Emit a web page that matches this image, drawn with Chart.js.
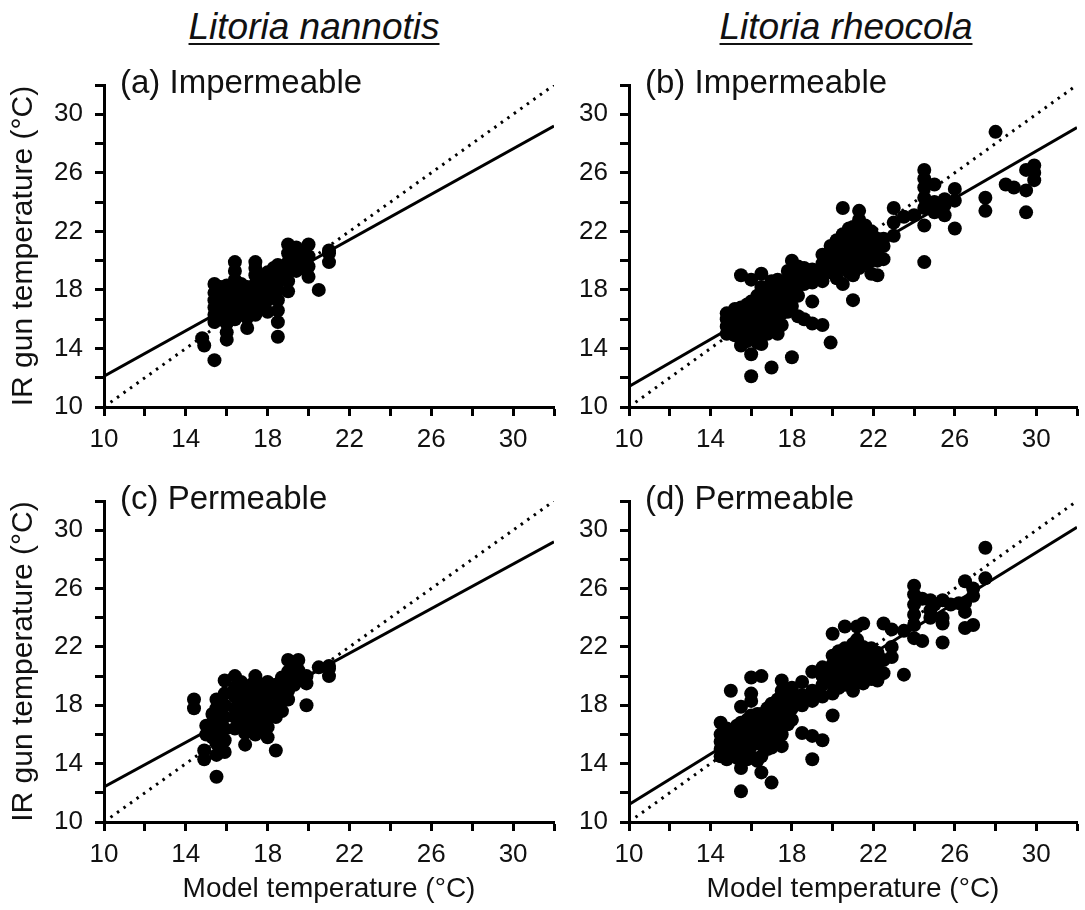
<!DOCTYPE html>
<html>
<head>
<meta charset="utf-8">
<script src="https://cdn.jsdelivr.net/npm/chart.js@4/dist/chart.umd.min.js"></script>
<style>
  body { margin: 0; background: #fff; width: 1085px; height: 910px; position: relative; overflow: hidden;
         font-family: "Liberation Sans", Arial, sans-serif; }
  canvas { position: absolute; }
  .species { position: absolute; top: 6px; font-style: italic; font-size: 37px; color: #111;
             text-decoration: underline; text-decoration-thickness: 2px; text-underline-offset: 4px;
             transform: translateX(-50%); white-space: nowrap; }
</style>
</head>
<body>
<div class="species" style="left:314px">Litoria nannotis</div>
<div class="species" style="left:846px">Litoria rheocola</div>
<canvas id="chartA" width="600" height="470" style="left:0;top:0"></canvas>
<canvas id="chartB" width="540" height="470" style="left:545px;top:0"></canvas>
<canvas id="chartC" width="600" height="450" style="left:0;top:460px"></canvas>
<canvas id="chartD" width="540" height="450" style="left:545px;top:460px"></canvas>
<script>
// model temperature (x) -> IR gun temperatures (y)
const nannotisImpermeable = [
  [14.8, [14.7]], [14.9, [14.2]],
  [15.4, [13.2, 15.8, 16.3, 16.8, 17.3, 17.8, 18.4]],
  [15.7, [16.0, 16.7, 17.5, 18.2]],
  [16.0, [14.6, 15.1, 15.7, 16.4, 17.1, 17.8, 18.3]],
  [16.4, [16.0, 16.7, 17.4, 18.1, 18.7, 19.3, 19.9]],
  [16.7, [16.3, 17.0, 17.8, 18.4]],
  [17.0, [15.4, 16.1, 16.8, 17.5, 18.2]],
  [17.4, [16.3, 17.0, 17.7, 18.4, 19.0, 19.5, 19.9]],
  [17.7, [16.8, 17.6, 18.2, 18.8]],
  [18.0, [16.5, 17.3, 18.0, 18.6, 19.2]],
  [18.3, [17.5, 18.2, 18.9, 19.5]],
  [18.5, [14.8, 15.8, 16.6, 17.3, 18.0, 18.6, 19.2, 19.7]],
  [19.0, [17.9, 18.6, 19.3, 19.9, 20.5, 21.1]],
  [19.4, [19.3, 19.9, 20.5, 20.9]],
  [19.7, [19.5, 20.1, 20.6]],
  [20.0, [18.9, 19.6, 20.3, 21.1]],
  [20.5, [18.0]],
  [21.0, [19.9, 20.5, 20.7]]
];

const rheocolaImpermeable = [
  [14.8, [15.0, 15.5, 16.0, 16.4]],
  [15.2, [14.9, 15.3, 15.8, 16.3, 16.7]],
  [15.5, [14.2, 15.0, 15.6, 16.2, 16.8, 19.0]],
  [15.8, [14.5, 15.2, 15.9, 16.5, 17.0]],
  [16.0, [12.1, 13.6, 14.8, 15.5, 16.0, 16.6, 17.2, 18.7]],
  [16.3, [14.4, 15.1, 15.8, 16.4, 17.0, 17.6]],
  [16.5, [14.3, 15.3, 16.0, 16.8, 17.5, 18.2, 19.1]],
  [16.8, [15.0, 15.7, 16.4, 17.1, 17.8]],
  [17.0, [12.7, 15.2, 16.0, 16.7, 17.4, 18.1, 18.6]],
  [17.3, [15.0, 15.8, 16.6, 17.3, 18.0, 18.7]],
  [17.5, [15.6, 16.4, 17.2, 17.9, 18.5]],
  [17.8, [16.5, 17.3, 18.0, 18.7, 19.3]],
  [18.0, [13.4, 16.9, 17.7, 18.4, 19.0, 20.0]],
  [18.3, [16.2, 17.6, 18.3, 19.0, 19.6]],
  [18.6, [16.0, 18.4, 19.0, 19.5]],
  [19.0, [15.7, 17.2, 18.5, 19.0, 19.4]],
  [19.5, [15.6, 18.6, 19.2, 19.8, 20.4]],
  [19.9, [14.4, 19.2, 19.8, 20.5, 21.0]],
  [20.2, [18.8, 19.6, 20.2, 20.8, 21.4]],
  [20.5, [18.4, 19.5, 20.0, 20.6, 21.2, 21.8, 23.6]],
  [20.8, [19.2, 19.8, 20.4, 21.0, 21.6, 22.2]],
  [21.0, [17.3, 19.0, 19.6, 20.3, 21.0, 21.7, 22.3]],
  [21.3, [19.5, 20.2, 20.8, 21.4, 22.0, 22.8, 23.4]],
  [21.6, [19.8, 20.5, 21.2, 21.8, 22.4]],
  [21.9, [19.1, 20.0, 20.7, 21.3, 22.0]],
  [22.2, [19.0, 20.0, 20.6, 21.2, 21.5]],
  [22.5, [20.1, 21.0, 21.5]],
  [23.0, [21.7, 22.6, 23.6]],
  [23.5, [23.0]],
  [24.0, [23.1]],
  [24.5, [19.9, 22.4, 23.6, 24.3, 25.0, 25.6, 26.2]],
  [25.0, [23.3, 24.0, 25.2]],
  [25.5, [23.1, 23.8, 24.2]],
  [26.0, [22.2, 24.1, 24.9]],
  [27.5, [23.4, 24.3]],
  [28.0, [28.8]],
  [28.5, [25.2]],
  [28.9, [25.0]],
  [29.5, [23.3, 24.8, 26.2]],
  [29.9, [25.5, 26.0, 26.5]]
];

const nannotisPermeable = [
  [14.4, [17.8, 18.4]],
  [14.9, [14.3, 14.9]],
  [15.0, [16.0, 16.6]],
  [15.3, [15.8, 16.8, 17.4]],
  [15.5, [13.1, 14.6, 15.4, 16.2, 17.0, 17.8, 18.4]],
  [15.9, [14.8, 15.6, 16.4, 17.2, 18.0, 18.8, 19.7]],
  [16.4, [16.4, 17.2, 17.8, 18.6, 19.2, 20.0]],
  [16.7, [16.7, 17.5, 18.3, 19.0, 19.6]],
  [16.9, [15.3, 16.1, 17.0, 17.8]],
  [17.2, [16.6, 17.3, 18.1, 18.8, 19.4]],
  [17.4, [16.0, 16.8, 17.6, 18.4, 19.2, 20.0]],
  [17.7, [16.3, 17.1, 17.9, 18.7, 19.4]],
  [18.0, [15.8, 16.5, 17.3, 18.1, 18.9, 19.6]],
  [18.4, [14.9, 17.2, 18.0, 18.8, 19.4]],
  [18.7, [17.6, 18.4, 19.2, 19.9]],
  [19.0, [18.4, 19.0, 19.6, 20.3, 21.1]],
  [19.3, [19.4, 20.0, 20.6]],
  [19.5, [19.7, 20.4, 21.1]],
  [19.9, [18.0, 19.5, 20.0]],
  [20.5, [20.6]],
  [21.0, [20.0, 20.5, 20.7]]
];

const rheocolaPermeable = [
  [14.5, [14.5, 15.0, 15.5, 16.0, 16.8]],
  [14.8, [14.3, 14.9, 15.4, 15.9, 16.4]],
  [15.0, [14.6, 15.2, 15.7, 16.2, 19.0]],
  [15.3, [14.4, 15.0, 15.5, 16.0, 16.6]],
  [15.5, [12.1, 13.7, 14.6, 15.3, 16.0, 16.8, 17.9]],
  [15.8, [14.3, 15.0, 15.7, 16.4, 17.0]],
  [16.0, [14.5, 15.2, 16.0, 16.6, 17.3, 18.3, 18.8, 19.9]],
  [16.3, [14.2, 15.5, 16.2, 16.8, 17.4]],
  [16.5, [13.4, 14.5, 15.3, 16.0, 16.7, 17.4, 20.0]],
  [16.8, [15.0, 15.8, 16.5, 17.2, 17.8]],
  [17.0, [12.7, 15.1, 16.0, 16.8, 17.5, 18.1]],
  [17.3, [15.4, 16.2, 17.0, 17.7, 18.4]],
  [17.5, [15.2, 16.0, 16.8, 17.5, 18.2, 19.0, 19.7]],
  [17.8, [16.7, 17.4, 18.1, 18.8]],
  [18.0, [17.0, 17.8, 18.5, 19.2]],
  [18.5, [16.1, 18.0, 18.7, 19.6]],
  [19.0, [14.3, 15.9, 18.3, 19.0, 20.3]],
  [19.5, [15.6, 18.6, 19.4, 20.0, 20.6]],
  [20.0, [17.3, 18.8, 19.5, 20.2, 20.8, 21.4, 22.9]],
  [20.3, [19.2, 19.9, 20.5, 21.1, 21.7]],
  [20.6, [19.4, 20.0, 20.7, 21.3, 21.9, 23.4]],
  [21.0, [19.0, 19.8, 20.4, 21.0, 21.6, 22.2]],
  [21.2, [19.6, 20.9, 22.5, 23.4]],
  [21.5, [19.5, 20.2, 20.8, 21.4, 22.0, 23.6]],
  [21.9, [19.8, 20.5, 21.2, 21.9]],
  [22.2, [19.7, 20.4, 21.0, 21.6]],
  [22.5, [20.2, 21.1, 23.6]],
  [22.9, [21.3, 22.0, 23.2]],
  [23.5, [20.1, 23.1]],
  [24.0, [22.6, 23.5, 24.2, 24.9, 25.6, 26.2]],
  [24.4, [22.4, 25.3]],
  [24.8, [24.0, 24.5, 25.2]],
  [25.0, [24.9]],
  [25.4, [22.3, 23.6, 24.0, 25.2]],
  [25.8, [24.9]],
  [26.2, [25.0]],
  [26.5, [23.3, 24.4, 25.0, 26.5]],
  [26.9, [23.5, 25.5, 26.0]],
  [27.5, [26.7, 28.8]]
];

// regression lines: y at x = 10 and x = 32; plus the 1:1 line
const lineX = [10, 32];
const fitNannotisImp = [12.1, 29.2];
const fitRheocolaImp = [11.4, 29.1];
const fitNannotisPerm = [12.4, 29.2];
const fitRheocolaPerm = [11.2, 30.2];
const oneToOne = [10, 32];

const tickLabels = [10, 14, 18, 22, 26, 30];

const FONT = '"Liberation Sans", Arial, sans-serif';

function toPoints(groups) {
  let pts = [];
  groups.forEach(g => g[1].forEach(y => pts.push({ x: g[0], y: y })));
  return pts;
}
function toLine(ys) {
  return lineX.map((x, i) => ({ x: x, y: ys[i] }));
}

const panelLabel = {
  id: 'panelLabel',
  afterDraw(chart, args, opts) {
    const ctx = chart.ctx;
    ctx.save();
    ctx.font = '33px ' + FONT;
    ctx.fillStyle = '#111';
    ctx.textBaseline = 'middle';
    ctx.fillText(opts.text, chart.chartArea.left + 16, chart.chartArea.top - 1);
    ctx.restore();
  }
};

function makeChart(id, groups, fit, label, o) {
  const axisGrid = { display: true, drawOnChartArea: false, drawTicks: true, tickLength: 9, tickWidth: 3, tickColor: '#000' };
  const border = { display: true, width: 3, color: '#000' };
  const tickCb = v => tickLabels.includes(v) ? v : '';
  return new Chart(document.getElementById(id).getContext('2d'), {
    type: 'scatter',
    data: {
      datasets: [
        { data: toPoints(groups), pointRadius: 7, pointBackgroundColor: '#000', pointBorderWidth: 0 },
        { data: toLine(fit), showLine: true, pointRadius: 0, borderColor: '#000', borderWidth: 3 },
        { data: toLine(oneToOne), showLine: true, pointRadius: 0, borderColor: '#000', borderWidth: 3,
          borderDash: [2.5, 5.5] }
      ]
    },
    options: {
      responsive: false,
      animation: false,
      devicePixelRatio: 1,
      layout: { padding: { top: o.padTop, right: o.padRight, left: 0, bottom: 0 } },
      plugins: { legend: { display: false }, tooltip: { enabled: false }, panelLabel: { text: label } },
      scales: {
        x: {
          type: 'linear', min: 10, max: 32,
          afterFit: s => { s.height = o.xHeight; },
          ticks: { stepSize: 2, autoSkip: false, maxRotation: 0, padding: 8, color: '#111',
                   font: { family: FONT, size: 26 }, callback: tickCb },
          grid: axisGrid, border: border,
          title: { display: o.xTitle, text: 'Model temperature (°C)', color: '#111',
                   font: { family: FONT, size: 28 }, padding: { top: 2, bottom: 4 } }
        },
        y: {
          type: 'linear', min: 10, max: 32,
          afterFit: s => { s.width = o.yWidth; },
          ticks: { stepSize: 2, autoSkip: false, padding: 12, color: '#111',
                   font: { family: FONT, size: 26 }, callback: tickCb },
          grid: axisGrid, border: border,
          title: { display: o.yTitle, text: 'IR gun temperature (°C)', color: '#111',
                   font: { family: FONT, size: 30 }, padding: { top: 6, bottom: 0 } }
        }
      }
    },
    plugins: [panelLabel]
  });
}

makeChart('chartA', nannotisImpermeable, fitNannotisImp, '(a) Impermeable',
  { padTop: 85, padRight: 46, xHeight: 63, yWidth: 104, xTitle: false, yTitle: true });
makeChart('chartB', rheocolaImpermeable, fitRheocolaImp, '(b) Impermeable',
  { padTop: 85, padRight: 8, xHeight: 63, yWidth: 84, xTitle: false, yTitle: false });
makeChart('chartC', nannotisPermeable, fitNannotisPerm, '(c) Permeable',
  { padTop: 41, padRight: 46, xHeight: 88, yWidth: 104, xTitle: true, yTitle: true });
makeChart('chartD', rheocolaPermeable, fitRheocolaPerm, '(d) Permeable',
  { padTop: 41, padRight: 8, xHeight: 88, yWidth: 84, xTitle: true, yTitle: false });
</script>
</body>
</html>
